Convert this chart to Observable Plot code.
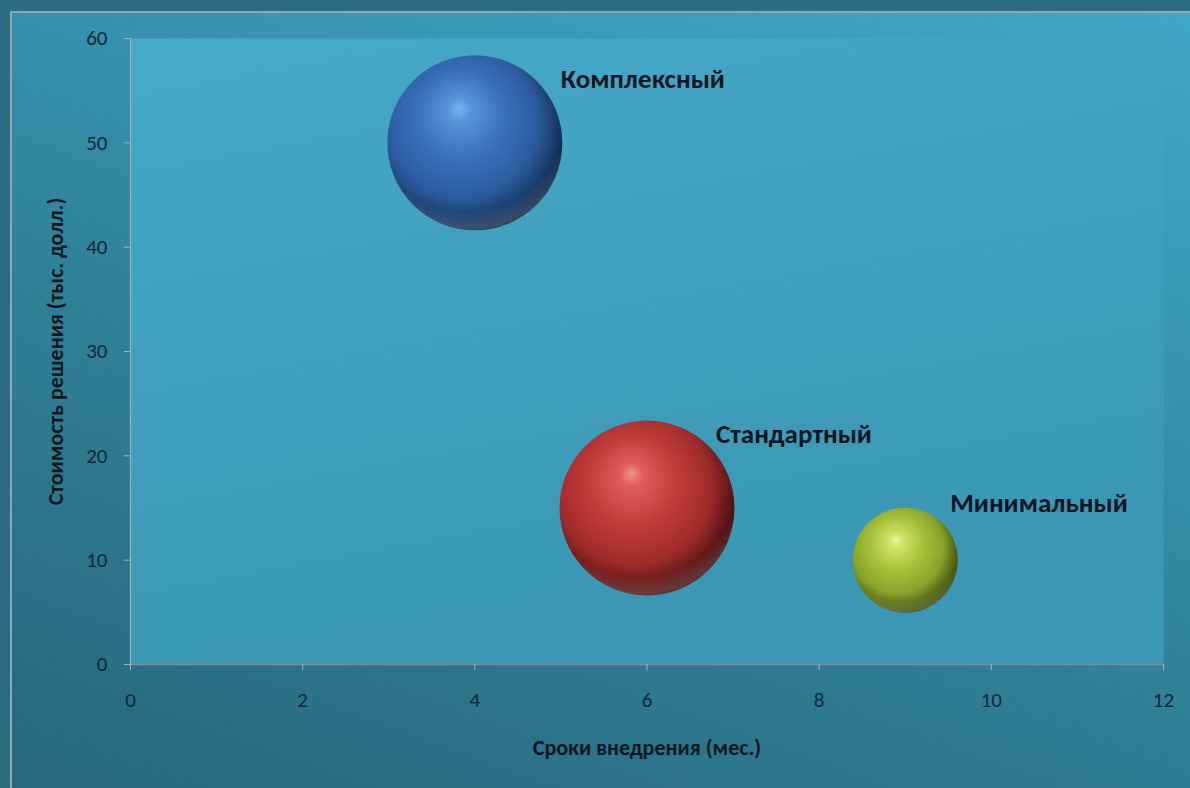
<!DOCTYPE html>
<html>
<head>
<meta charset="utf-8">
<script src="https://cdn.jsdelivr.net/npm/d3@7"></script>
<script src="https://cdn.jsdelivr.net/npm/@observablehq/plot@0.6"></script>
<style>
  html, body { margin: 0; padding: 0; width: 1190px; height: 788px; overflow: hidden; background: #2c6c80; }
  #bg { position: absolute; left: 10px; top: 11px; right: 0; bottom: 0;
        border-top: 2px solid #8ea9b1; border-left: 2px solid #8ea9b1;
        background: linear-gradient(20deg, #26687c 0%, #2f7f96 40%, #3a97b4 75%, #41a7c6 100%); }
  #chart { position: absolute; left: 0; top: 0; }
</style>
</head>
<body>
<div id="bg"></div>
<div id="chart"></div>
<script>
// ---- data ----
const names = ["Комплексный", "Стандартный", "Минимальный"];
const months = [4, 6, 9];          // Сроки внедрения (мес.)
const cost = [50, 15, 10];         // Стоимость решения (тыс. долл.)
const bubbleSize = [10, 10, 3.6];  // relative bubble size
const xTicks = [0, 2, 4, 6, 8, 10, 12];
const yTicks = [0, 10, 20, 30, 40, 50, 60];
const xTitle = "Сроки внедрения (мес.)";
const yTitle = "Стоимость решения (тыс. долл.)";

const data = names.map((n, i) => ({name: n, x: months[i], y: cost[i], s: bubbleSize[i]}));

// styling per series (not data)
const gradIds = ["gBlue", "gRed", "gGreen"];
const labelOffsets = [[86, -63], [69, -74], [45, -57]];

const font = "Carlito, Lato, 'Open Sans', sans-serif";
const ink = "#0b1622";

const marks = [
  Plot.frame({fill: "url(#plotBg)", stroke: "none"}),
  Plot.ruleX([0], {stroke: "#9db4bc", strokeWidth: 1.2}),
  Plot.ruleY([0], {stroke: "#7b8c9c", strokeWidth: 1.5}),
  Plot.tickX(xTicks, {x: d => d, frameAnchor: "bottom", stroke: "#9fb6be"}),
  Plot.axisX({ticks: xTicks, tickSize: 6, stroke: "#9fb6be", text: null, label: null}),
  Plot.axisY({ticks: yTicks, tickSize: 6, stroke: "#9fb6be", text: null, label: null}),
  Plot.text(xTicks, {x: d => d, frameAnchor: "bottom", dy: 36, text: d => String(d), fontSize: 21, fill: "#13263a", fontFamily: font, lineAnchor: "middle", textAnchor: "middle"}),
  Plot.text(yTicks, {y: d => d, frameAnchor: "left", dx: -23, text: d => String(d), fontSize: 21, fill: "#13263a", fontFamily: font, lineAnchor: "middle", textAnchor: "end"}),
];
marks.splice(3, 1); // no extra ticks mark

data.forEach((d, i) => {
  marks.push(Plot.dot([d], {x: "x", y: "y", r: "s", fill: `url(#${gradIds[i]})`, stroke: "none"}));
  marks.push(Plot.dot([d], {x: "x", y: "y", r: "s", fill: "url(#gRim)", stroke: "none"}));
  marks.push(Plot.text([d], {x: "x", y: "y", text: "name", dx: labelOffsets[i][0], dy: labelOffsets[i][1],
    textAnchor: "start", fontSize: 27, fontWeight: "bold", fill: ink, fontFamily: font}));
});

marks.push(Plot.text([xTitle], {frameAnchor: "bottom", dy: 83, textAnchor: "middle", lineAnchor: "middle", fontSize: 22, fontWeight: "bold", fill: ink, fontFamily: font}));
marks.push(Plot.text([yTitle], {frameAnchor: "left", dx: -75, rotate: -90, textAnchor: "middle", lineAnchor: "middle", fontSize: 22, fontWeight: "bold", fill: ink, fontFamily: font}));

const chart = Plot.plot({
  width: 1190,
  height: 788,
  marginLeft: 130,
  marginRight: 27,
  marginTop: 38,
  marginBottom: 124,
  style: {background: "transparent", fontFamily: font, overflow: "visible"},
  x: {domain: [0, 12], axis: null},
  y: {domain: [0, 60], axis: null},
  r: {type: "sqrt", domain: [0, 10], range: [0, 87.5]},
  marks
});

// gradient definitions
const svg = d3.select(chart);
const defs = svg.insert("defs", ":first-child");
const pb = defs.append("linearGradient").attr("id", "plotBg").attr("x1", 0).attr("y1", 0).attr("x2", 0.3).attr("y2", 1);
pb.append("stop").attr("offset", 0).attr("stop-color", "#45a9c7");
pb.append("stop").attr("offset", 1).attr("stop-color", "#3b97b3");

const sphere = (id, stops) => {
  const g = defs.append("radialGradient").attr("id", id)
    .attr("cx", 0.43).attr("cy", 0.42).attr("r", 0.64)
    .attr("fx", 0.41).attr("fy", 0.3);
  stops.forEach(([o, c]) => g.append("stop").attr("offset", o).attr("stop-color", c));
};
sphere("gBlue", [[0, "#76b8ee"], [0.1, "#5895d8"], [0.4, "#3a70b8"], [0.68, "#2c5b9c"], [0.86, "#173763"], [1, "#08162a"]]);
sphere("gRed", [[0, "#f49090"], [0.1, "#e05e5e"], [0.4, "#c23b3b"], [0.68, "#a02c2c"], [0.86, "#5e1616"], [1, "#260606"]]);
sphere("gGreen", [[0, "#eef8a6"], [0.1, "#d0e466"], [0.4, "#a6c03a"], [0.68, "#88a22c"], [0.86, "#526514"], [1, "#222e06"]]);

const rim = defs.append("radialGradient").attr("id", "gRim")
  .attr("cx", 0.45).attr("cy", 0.32).attr("r", 0.72);
rim.append("stop").attr("offset", 0).attr("stop-color", "#ffffff").attr("stop-opacity", 0);
rim.append("stop").attr("offset", 0.8).attr("stop-color", "#ffffff").attr("stop-opacity", 0);
rim.append("stop").attr("offset", 0.93).attr("stop-color", "#ffffff").attr("stop-opacity", 0.18);
rim.append("stop").attr("offset", 1).attr("stop-color", "#ffffff").attr("stop-opacity", 0.05);

document.getElementById("chart").appendChild(chart);
</script>
</body>
</html>
